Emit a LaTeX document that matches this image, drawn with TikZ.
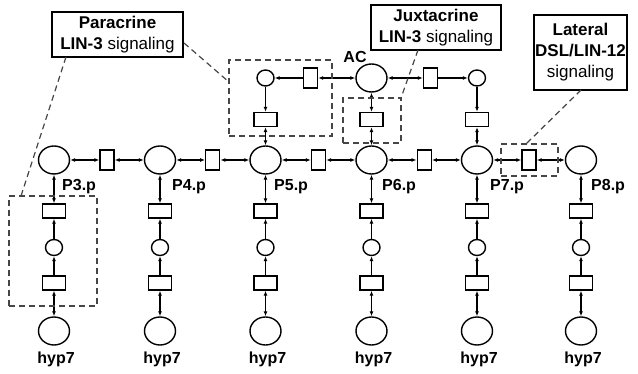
\documentclass[tikz,border=0pt]{standalone}
\usepackage{fontspec}
\setmainfont{Liberation Sans}
\usetikzlibrary{arrows.meta,shapes.geometric}
\definecolor{dashgray}{RGB}{70,70,70}
\begin{document}
\begin{tikzpicture}[x=1pt,y=-1pt,
  place/.style={draw,line width=1.4pt,ellipse,minimum width=31pt,minimum height=28pt,inner sep=0pt},
  smallplace/.style={draw,line width=1.4pt,ellipse,minimum width=17pt,minimum height=16pt,inner sep=0pt},
  trh/.style={draw,line width=1.4pt,rectangle,minimum width=23pt,minimum height=14pt,inner sep=0pt},
  trv/.style={draw,line width=1.4pt,rectangle,minimum width=14pt,minimum height=20pt,inner sep=0pt},
  arr/.style={line width=1.2pt,-{Latex[length=5pt,width=4pt]}},
  biarr/.style={line width=1.2pt,{Latex[length=5pt,width=4pt]}-{Latex[length=5pt,width=4pt]}},
  lab/.style={font=\fontsize{16}{19}\selectfont\bfseries,inner sep=0pt},
  callout/.style={draw,line width=1.3pt,rectangle,inner sep=0pt,align=center,font=\fontsize{17}{21}\selectfont},
  dbox/.style={draw=dashgray,line width=1.2pt,dash pattern=on 6pt off 4pt,rectangle,inner sep=0pt},
  lead/.style={draw=dashgray,line width=1.2pt,dash pattern=on 6pt off 4pt}]
\useasboundingbox (0,0) rectangle (638,374);
% vertical chains
\foreach \i/\x/\lx/\nm in {1/54/62/3,2/160/172/4,3/265.5/274/5,4/371.5/382/6,5/477/490/7,6/581/591/8}{
  \node[place] (p\i) at (\x,160) {};
  \node[lab,anchor=west] (lp\i) at (\lx,186.5) {P\nm.p};
  \node[trh] (ua\i) at (\x,211) {};
  \node[smallplace] (sc\i) at (\x,247.5) {};
  \node[trh] (la\i) at (\x,283) {};
  \node[place] (h\i) at (\x,331) {};
  \node[lab] (lh\i) at (\x+2,359) {hyp7};
  \draw[biarr] (p\i) -- (ua\i);
  \draw[arr] (sc\i) -- (ua\i);
  \draw[arr] (la\i) -- (sc\i);
  \draw[biarr] (la\i) -- (h\i);
}
% horizontal transitions
\foreach \i/\x in {1/107,2/212.75,3/318.5,4/424.25,5/529}{
  \pgfmathtruncatemacro{\j}{\i+1}
  \node[trv] (t\i) at (\x,160) {};
  \draw[biarr] (p\i) -- (t\i);
  \draw[biarr] (t\i) -- (p\j);
}
% top row
\node[smallplace] (c1) at (265.5,78) {};
\node[trv] (ta) at (310.5,78) {};
\node[place] (ac) at (371.5,78) {};
\node[lab] (aclab) at (355,57) {AC};
\node[trv] (tb) at (430.5,78) {};
\node[smallplace] (c2) at (477,78) {};
\node[trh] (r1) at (265.5,119.5) {};
\node[trh] (r2) at (371.5,119.5) {};
\node[trh] (r3) at (477,119.5) {};
\draw[arr] (ta) -- (c1);
\draw[biarr] (ta) -- (ac);
\draw[biarr] (ac) -- (tb);
\draw[arr] (tb) -- (c2);
\draw[arr] (c1) -- (r1);
\draw[biarr] (r1) -- (p3);
\draw[biarr] (ac) -- (r2);
\draw[biarr] (r2) -- (p4);
\draw[arr] (c2) -- (r3);
\draw[biarr] (r3) -- (p5);
% dashed boxes
\node[dbox,minimum width=103pt,minimum height=76pt] (b1) at (280.5,98) {};
\node[dbox,minimum width=58pt,minimum height=45pt] (b2) at (372,120.5) {};
\node[dbox,minimum width=57pt,minimum height=32pt] (b3) at (529.5,160) {};
\node[dbox,minimum width=88pt,minimum height=110pt] (b4) at (53,251) {};
% callouts
\node[callout,minimum width=131pt,minimum height=45pt] (para) at (117.5,34.5) {\textbf{Paracrine}\\\textbf{LIN-3} signaling};
\node[callout,minimum width=130pt,minimum height=45pt] (juxta) at (436,27.5) {\textbf{Juxtacrine}\\\textbf{LIN-3} signaling};
\node[callout,minimum width=93pt,minimum height=75pt] (lat) at (580.5,52.5) {\textbf{Lateral}\\\textbf{DSL/LIN-12}\\signaling};
% leaders
\coordinate (s1) at (184,43);
\coordinate (e1) at (229,82);
\coordinate (s2) at (66,57);
\coordinate (e2) at (21,196);
\coordinate (s3) at (418,50);
\coordinate (e3) at (401,98);
\coordinate (s4) at (581,90);
\coordinate (e4) at (526,144);
\draw[lead] (s1) -- (e1);
\draw[lead] (s2) -- (e2);
\draw[lead] (s3) -- (e3);
\draw[lead] (s4) -- (e4);
\end{tikzpicture}
\end{document}
